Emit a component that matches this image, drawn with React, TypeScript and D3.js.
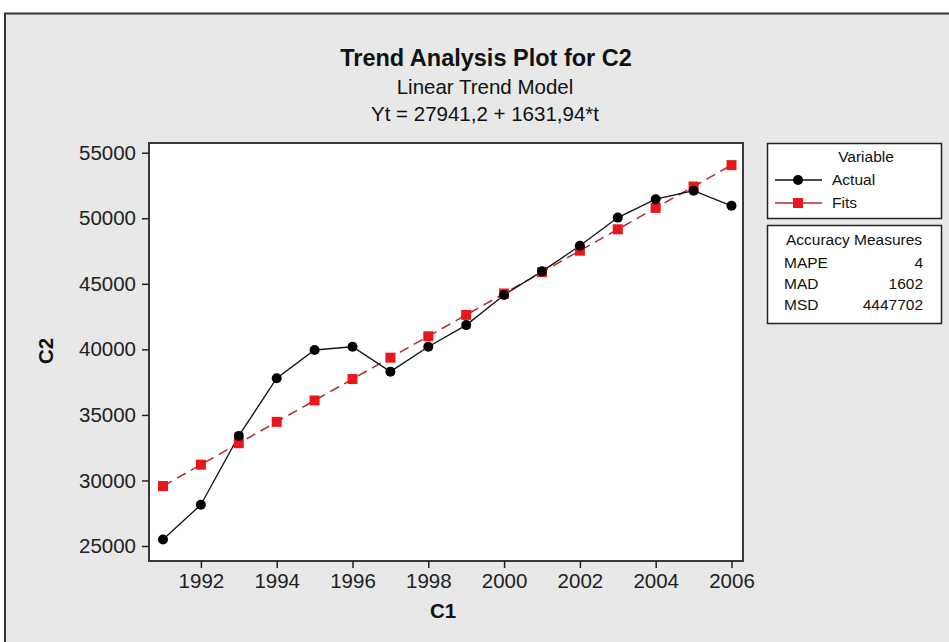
import React, { useRef, useEffect } from 'react';
import * as d3 from 'd3';

// values
const years = [1991, 1992, 1993, 1994, 1995, 1996, 1997, 1998, 1999, 2000, 2001, 2002, 2003, 2004, 2005, 2006];
const actual = [25500, 28150, 33400, 37800, 39950, 40200, 38300, 40200, 41850, 44150, 45950, 47900, 50050, 51450, 52100, 50950];
const fits = [29573, 31205, 32837, 34469, 36101, 37733, 39365, 40997, 42629, 44261, 45893, 47525, 49157, 50789, 52421, 54053];
const yTicks = [25000, 30000, 35000, 40000, 45000, 50000, 55000];
const xTicks = [1992, 1994, 1996, 1998, 2000, 2002, 2004, 2006];
const accuracy = [
  ['MAPE', '4'],
  ['MAD', '1602'],
  ['MSD', '4447702'],
];

const FONT = '"Liberation Sans", Arial, sans-serif';

const App = () => {
  const ref = useRef(null);

  useEffect(() => {
    const svg = d3.select(ref.current);
    svg.selectAll('*').remove();

    // outer frame
    svg.append('rect').attr('width', 949).attr('height', 642).attr('fill', '#fff');
    svg.append('rect')
      .attr('x', 5).attr('y', 13.5).attr('width', 960).attr('height', 650)
      .attr('fill', '#e8e8e8').attr('stroke', '#333').attr('stroke-width', 2);

    const x = d3.scaleLinear().domain([1991, 2006]).range([163, 731.5]);
    const y = d3.scaleLinear().domain([25000, 55000]).range([546, 152.7]);

    // plot area
    svg.append('rect')
      .attr('x', 149).attr('y', 143).attr('width', 594).attr('height', 418)
      .attr('fill', '#fff').attr('stroke', '#3a3a3a').attr('stroke-width', 2);

    const xAxis = svg.append('g')
      .attr('transform', 'translate(0,561)')
      .call(d3.axisBottom(x).tickValues(xTicks).tickFormat(d3.format('d')).tickSize(7).tickPadding(5).tickSizeOuter(0));
    const yAxis = svg.append('g')
      .attr('transform', 'translate(149,0)')
      .call(d3.axisLeft(y).tickValues(yTicks).tickFormat(d3.format('d')).tickSize(7).tickPadding(6).tickSizeOuter(0));
    [xAxis, yAxis].forEach(a => {
      a.select('.domain').remove();
      a.selectAll('line').attr('stroke', '#222').attr('stroke-width', 1.5);
      a.selectAll('text').attr('font-family', FONT).attr('font-size', 20.5).attr('fill', '#222');
    });

    // fits: dashed line with red squares
    const line = d3.line().x((d, i) => x(years[i])).y(d => y(d));
    svg.append('path')
      .attr('d', line(fits))
      .attr('fill', 'none').attr('stroke', '#b22a2a').attr('stroke-width', 1.5)
      .attr('stroke-dasharray', '10,6');

    // actual
    svg.append('path')
      .attr('d', line(actual))
      .attr('fill', 'none').attr('stroke', '#111').attr('stroke-width', 1.3);

    svg.selectAll('rect.fit')
      .data(fits).join('rect').attr('class', 'fit')
      .attr('x', (d, i) => x(years[i]) - 5).attr('y', d => y(d) - 5)
      .attr('width', 10).attr('height', 10).attr('fill', '#e8171c');

    svg.selectAll('circle.act')
      .data(actual).join('circle').attr('class', 'act')
      .attr('cx', (d, i) => x(years[i])).attr('cy', d => y(d))
      .attr('r', 5).attr('fill', '#000');

    // titles
    const txt = (tx, ty, s, size, weight = 'normal', anchor = 'middle') =>
      svg.append('text').attr('x', tx).attr('y', ty).text(s)
        .attr('font-family', FONT).attr('font-size', size).attr('font-weight', weight)
        .attr('text-anchor', anchor).attr('fill', '#111');

    txt(486, 66, 'Trend Analysis Plot for C2', 23.5, 'bold');
    txt(485, 94, 'Linear Trend Model', 20.5);
    txt(485, 121, 'Yt = 27941,2 + 1631,94*t', 20.5);
    txt(443, 618, 'C1', 20.5, 'bold');
    svg.append('text')
      .attr('transform', 'translate(53,351) rotate(-90)')
      .attr('text-anchor', 'middle').text('C2')
      .attr('font-family', FONT).attr('font-size', 20.5).attr('font-weight', 'bold').attr('fill', '#111');

    // legend
    svg.append('rect').attr('x', 767.5).attr('y', 143.5).attr('width', 174).attr('height', 75)
      .attr('fill', '#fff').attr('stroke', '#222').attr('stroke-width', 1.5);
    txt(866, 162, 'Variable', 15.5);
    svg.append('line').attr('x1', 775).attr('x2', 822).attr('y1', 180).attr('y2', 180)
      .attr('stroke', '#111').attr('stroke-width', 1.3);
    svg.append('circle').attr('cx', 798).attr('cy', 180).attr('r', 5).attr('fill', '#000');
    txt(832, 185, 'Actual', 15.5, 'normal', 'start');
    svg.append('line').attr('x1', 775).attr('x2', 822).attr('y1', 203).attr('y2', 203)
      .attr('stroke', '#b22a2a').attr('stroke-width', 1.3);
    svg.append('rect').attr('x', 793).attr('y', 198).attr('width', 10).attr('height', 10).attr('fill', '#e8171c');
    txt(832, 208, 'Fits', 15.5, 'normal', 'start');

    svg.append('rect').attr('x', 767.5).attr('y', 225.5).attr('width', 174).attr('height', 98)
      .attr('fill', '#fff').attr('stroke', '#222').attr('stroke-width', 1.5);
    txt(854, 245, 'Accuracy Measures', 15.5);
    accuracy.forEach(([k, v], i) => {
      txt(784, 268 + i * 21, k, 15.5, 'normal', 'start');
      txt(923, 268 + i * 21, v, 15.5, 'normal', 'end');
    });
  }, []);

  return (
    <svg ref={ref} width={949} height={642} style={{ position: 'absolute', left: 0, top: 0 }} />
  );
};

export default App;
